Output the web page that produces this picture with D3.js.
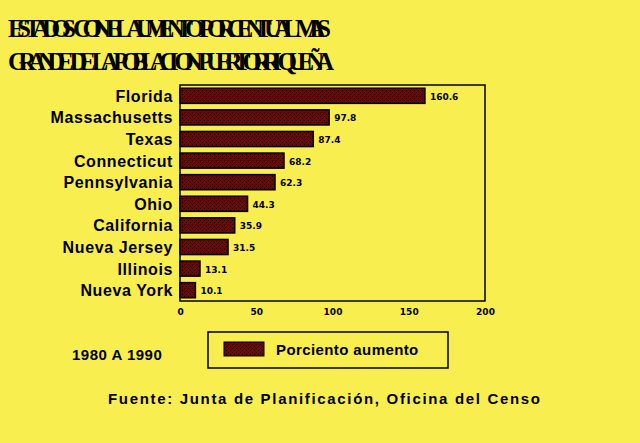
<!DOCTYPE html><html><head><meta charset="utf-8"><script src="https://cdn.jsdelivr.net/npm/d3@7"></script>
<style>body{margin:0;background:#f8ee50}</style></head><body><svg id="c" width="640" height="443"></svg>
<script>
const states=["Florida","Massachusetts","Texas","Connecticut","Pennsylvania","Ohio","California","Nueva Jersey","Illinois","Nueva York"];
const values=[160.6,97.8,87.4,68.2,62.3,44.3,35.9,31.5,13.1,10.1];
const valueLabels=["160.6","97.8","87.4","68.2","62.3","44.3","35.9","31.5","13.1","10.1"];
const ticks=[0,50,100,150,200];
const svg=d3.select("#c");
const defs=svg.append("defs");
const p=defs.append("pattern").attr("id","pat").attr("width",4).attr("height",4).attr("patternUnits","userSpaceOnUse");
p.append("rect").attr("width",4).attr("height",4).attr("fill","#7a0000");
p.append("rect").attr("x",0).attr("y",0).attr("width",1).attr("height",1).attr("fill","#000");
p.append("rect").attr("x",2).attr("y",2).attr("width",1).attr("height",1).attr("fill","#000");
svg.append("rect").attr("width",640).attr("height",443).attr("fill","#f8ee50");
const t=svg.append("text").attr("font-family","Liberation Serif").attr("font-weight","bold").attr("font-size",25).attr("fill","#000").attr("textLength",620).attr("lengthAdjust","spacingAndGlyphs");
t.append("tspan").attr("x",8).attr("y",37).attr("textLength",618).text("ESTADOS CON EL AUMENTO PORCENTUAL MAS");
t.append("tspan").attr("x",8).attr("y",70).attr("textLength",620).text("GRANDE DE LA POBLACION PUERTORRIQUEÑA");
const x=d3.scaleLinear().domain([0,200]).range([180,485]);
const y=d3.scaleBand().domain(states).range([85,301]).paddingInner(0.3).paddingOuter(0.15);
svg.append("rect").attr("x",180).attr("y",85).attr("width",305).attr("height",216).attr("fill","none").attr("stroke","#000").attr("stroke-width",1.5);
svg.selectAll(".b").data(states).join("rect").attr("x",x(0)).attr("y",d=>y(d)).attr("width",(d,i)=>x(values[i])-x(0)).attr("height",y.bandwidth()).attr("fill","url(#pat)").attr("stroke","#000").attr("stroke-width",1.5);
svg.selectAll(".v").data(states).join("text").attr("x",(d,i)=>x(values[i])+5).attr("y",d=>y(d)+y.bandwidth()/2+4).attr("font-family","DejaVu Sans").attr("font-size",9).attr("font-weight","bold").text((d,i)=>valueLabels[i]);
svg.selectAll(".l").data(states).join("text").attr("x",173).attr("y",d=>y(d)+y.bandwidth()/2+6).attr("text-anchor","end").attr("font-family","Liberation Sans").attr("font-weight","bold").attr("font-size",16).attr("letter-spacing",0.6).text(d=>d);
const ax=svg.append("g").attr("transform","translate(0,301)").call(d3.axisBottom(x).tickValues(ticks).tickSize(0).tickPadding(8));
ax.select(".domain").remove();
ax.selectAll("text").attr("font-family","DejaVu Sans").attr("font-size",9).attr("font-weight","bold");
svg.append("text").attr("x",72).attr("y",360).attr("font-family","Liberation Sans").attr("font-weight","bold").attr("font-size",15).attr("letter-spacing",0.5).text("1980 A 1990");
svg.append("rect").attr("x",208).attr("y",332).attr("width",240).attr("height",36).attr("fill","none").attr("stroke","#000").attr("stroke-width",1.5);
svg.append("rect").attr("x",224).attr("y",342).attr("width",40).attr("height",14).attr("fill","url(#pat)").attr("stroke","#000");
svg.append("text").attr("x",276).attr("y",355).attr("font-family","Liberation Sans").attr("font-weight","bold").attr("font-size",15).attr("letter-spacing",0.4).text("Porciento aumento");
svg.append("text").attr("x",108).attr("y",404).attr("font-family","Liberation Sans").attr("font-weight","bold").attr("font-size",15).attr("textLength",432).attr("lengthAdjust","spacing").text("Fuente: Junta de Planificación, Oficina del Censo");
</script></body></html>
